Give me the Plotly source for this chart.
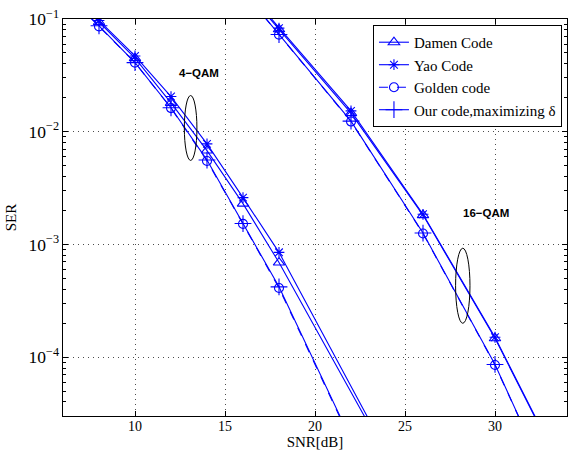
import numpy as np
import plotly.graph_objects as go

# ---- data ----
snr_4qam = [6, 8, 10, 12, 14, 16, 18, 24]
damen_4qam = [0.196, 0.094, 0.045, 0.018, 0.0068, 0.0023, 0.00069, 1.3e-5]
yao_4qam = [0.20, 0.097, 0.047, 0.0205, 0.0078, 0.0026, 0.00085, 1.4e-5]
golden_4qam = [0.18, 0.086, 0.041, 0.0162, 0.0055, 0.00152, 0.00041, 3.8e-6]
our_4qam = [0.18, 0.087, 0.041, 0.0163, 0.0056, 0.00153, 0.00042, 3.9e-6]

snr_16qam = [14, 18, 22, 26, 30, 34]
damen_16qam = [0.45, 0.081, 0.0146, 0.00182, 1.47e-4, 8.0e-6]
yao_16qam = [0.46, 0.083, 0.0153, 0.00185, 1.50e-4, 8.2e-6]
golden_16qam = [0.43, 0.0726, 0.0123, 0.00125, 8.5e-5, 3.4e-6]
our_16qam = [0.43, 0.0728, 0.0124, 0.00126, 8.6e-5, 3.4e-6]

series_names = ["Damen Code", "Yao Code", "Golden code", "Our code,maximizing δ"]
x_ticks = [10, 15, 20, 25, 30]

X_RANGE = [6, 34]
Y_MIN, Y_MAX = 3e-5, 1e-1

BLUE = "#0000ff"
styles = [
    dict(symbol="triangle-up-open", size=10, dash="solid"),
    dict(symbol="asterisk-open", size=9, dash="solid"),
    dict(symbol="circle-open", size=9, dash="dash"),
    dict(symbol="cross-thin-open", size=12, dash="solid"),
]

fig = go.Figure()
data4 = [damen_4qam, yao_4qam, golden_4qam, our_4qam]
data16 = [damen_16qam, yao_16qam, golden_16qam, our_16qam]
for i, name in enumerate(series_names):
    st = styles[i]
    for xs, ys, show in [(snr_4qam, data4[i], True), (snr_16qam, data16[i], False)]:
        fig.add_trace(go.Scatter(
            x=xs, y=ys, mode="lines+markers", name=name,
            legendgroup=name, showlegend=show,
            line=dict(color=BLUE, width=1.1, dash=st["dash"]),
            marker=dict(symbol=st["symbol"], size=st["size"], color=BLUE,
                        line=dict(color=BLUE, width=1.1)),
        ))

# helpers to place annotation shapes relative to axes (paper coords)
ly0, ly1 = np.log10(Y_MIN), np.log10(Y_MAX)
def px(x):
    return (x - X_RANGE[0]) / (X_RANGE[1] - X_RANGE[0])
def py(logy):
    return (logy - ly0) / (ly1 - ly0)

ellipses = [  # (center snr, center log10 SER, half width dB, half height decades)
    (13.09, -1.967, 0.35, 0.288),
    (28.21, -3.367, 0.40, 0.333),
]
for cx, cy, hw, hh in ellipses:
    fig.add_shape(type="circle", xref="paper", yref="paper",
                  x0=px(cx - hw), x1=px(cx + hw), y0=py(cy - hh), y1=py(cy + hh),
                  line=dict(color="black", width=1))

for text, x, ly in [("4−QAM", 13.58, -1.479), ("16−QAM", 29.5, -2.72)]:
    fig.add_annotation(text=f"<b>{text}</b>", xref="paper", yref="paper",
                       x=px(x), y=py(ly), xanchor="center", yanchor="middle",
                       showarrow=False,
                       font=dict(family="Liberation Sans", size=11.5, color="black"))

axis_common = dict(
    showline=True, linecolor="black", linewidth=1.3, mirror="ticks",
    ticks="inside", ticklen=5, tickcolor="black", tickwidth=1,
    showgrid=True, gridcolor="rgba(0,0,0,0.7)", griddash="1px,4px", gridwidth=1,
    zeroline=False,
    tickfont=dict(family="Liberation Serif", size=14, color="black"),
)

fig.update_xaxes(range=X_RANGE, tickvals=x_ticks, ticklabelstandoff=-3,
                 title=dict(text="SNR[dB]", standoff=0,
                            font=dict(family="Liberation Serif", size=15, color="black")),
                 **axis_common)
fig.update_yaxes(type="log", range=[ly0, ly1], dtick=1, exponentformat="power",
                 minor=dict(ticks="inside", ticklen=3, tickcolor="black", dtick="D1",
                            showgrid=False),
                 title=dict(text="SER", standoff=8,
                            font=dict(family="Liberation Serif", size=15, color="black")),
                 **axis_common)

fig.update_layout(
    width=569, height=453,
    margin=dict(l=63, r=2, t=19, b=37, autoexpand=False),
    paper_bgcolor="white", plot_bgcolor="white",
    legend=dict(x=0.99, y=0.985, xanchor="right", yanchor="top",
                bgcolor="white", bordercolor="black", borderwidth=1,
                font=dict(family="Liberation Serif", size=15, color="black"),
                tracegroupgap=0, itemwidth=30),
    showlegend=True,
)

fig.write_html("out.html", config={"displayModeBar": False},
               post_script="document.body.style.margin='0';document.body.style.overflow='hidden';")
